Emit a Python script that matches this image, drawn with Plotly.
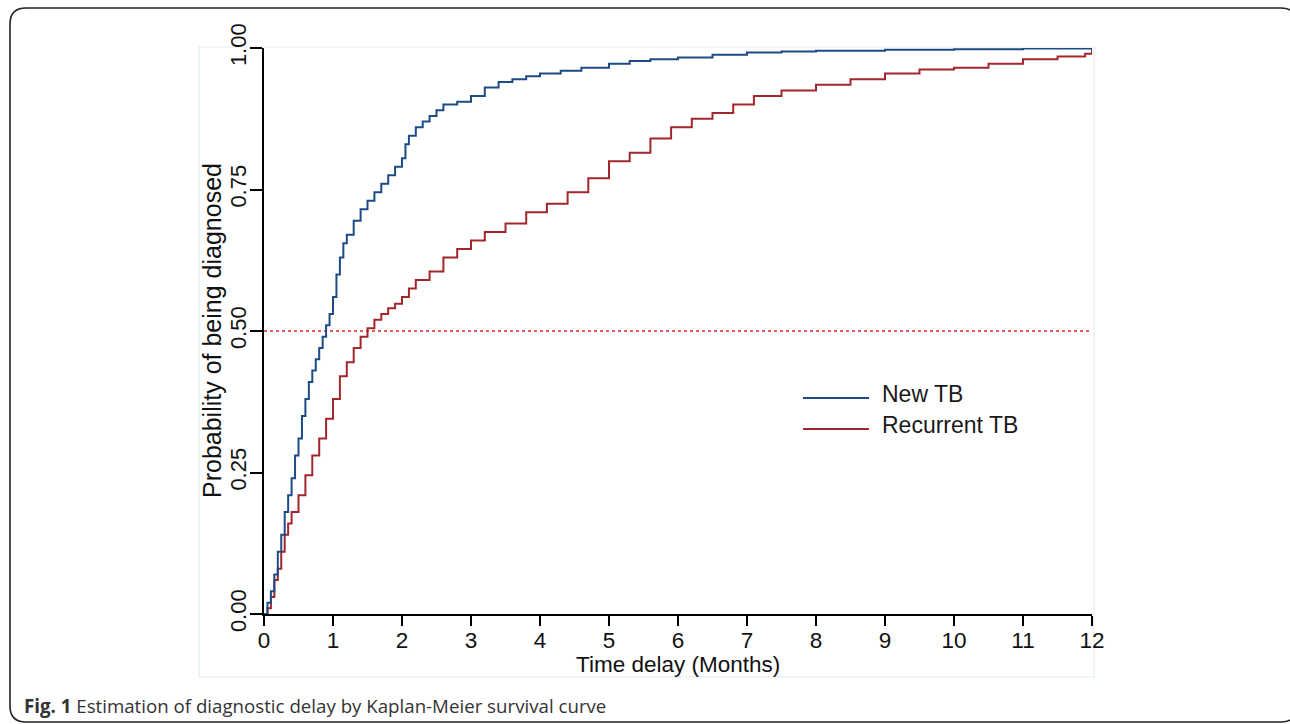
import plotly.graph_objects as go

# ---- data ----
new_t = [0, 0.05, 0.1, 0.15, 0.2, 0.25, 0.3, 0.35, 0.4, 0.45, 0.5, 0.55, 0.6, 0.65, 0.7, 0.75, 0.8, 0.85, 0.9, 0.95,
         1.0, 1.05, 1.1, 1.15, 1.2, 1.3, 1.4, 1.5, 1.6, 1.7, 1.8, 1.9, 2.0, 2.05, 2.1, 2.2, 2.3, 2.4, 2.5, 2.6, 2.8,
         3.0, 3.2, 3.4, 3.6, 3.8, 4.0, 4.3, 4.6, 5.0, 5.3, 5.6, 6.0, 6.5, 7.0, 7.5, 8.0, 9.0, 10.0, 11.0, 12.0]
new_p = [0, 0.02, 0.04, 0.07, 0.11, 0.14, 0.18, 0.21, 0.24, 0.28, 0.31, 0.35, 0.38, 0.41, 0.43, 0.45, 0.47, 0.49, 0.51, 0.53,
         0.56, 0.60, 0.63, 0.655, 0.67, 0.695, 0.715, 0.73, 0.745, 0.76, 0.775, 0.79, 0.805, 0.83, 0.845, 0.86, 0.87, 0.88, 0.89, 0.9, 0.905,
         0.915, 0.93, 0.94, 0.945, 0.95, 0.955, 0.96, 0.965, 0.972, 0.977, 0.98, 0.983, 0.988, 0.992, 0.994, 0.995, 0.997, 0.998, 0.999, 1.0]

rec_t = [0, 0.05, 0.1, 0.15, 0.2, 0.25, 0.3, 0.35, 0.4, 0.5, 0.6, 0.7, 0.8, 0.9,
         1.0, 1.1, 1.2, 1.3, 1.4, 1.5, 1.6, 1.7, 1.8, 1.9, 2.0, 2.1, 2.2, 2.4, 2.6, 2.8,
         3.0, 3.2, 3.5, 3.8, 4.1, 4.4, 4.7, 5.0, 5.3, 5.6, 5.9, 6.2, 6.5, 6.8, 7.1, 7.5,
         8.0, 8.5, 9.0, 9.5, 10.0, 10.5, 11.0, 11.5, 11.9, 12.0]
rec_p = [0, 0.01, 0.03, 0.06, 0.08, 0.11, 0.14, 0.16, 0.18, 0.21, 0.245, 0.28, 0.31, 0.345,
         0.38, 0.42, 0.445, 0.47, 0.49, 0.505, 0.52, 0.53, 0.54, 0.548, 0.56, 0.575, 0.59, 0.605, 0.63, 0.645,
         0.66, 0.675, 0.69, 0.71, 0.725, 0.745, 0.77, 0.80, 0.815, 0.84, 0.86, 0.875, 0.885, 0.90, 0.915, 0.925,
         0.935, 0.945, 0.955, 0.962, 0.965, 0.972, 0.98, 0.985, 0.99, 1.0]

ref_t = [0, 12]
ref_p = [0.5, 0.5]

x_ticks = list(range(0, 13))
y_ticks = [0, 0.25, 0.5, 0.75, 1.0]
y_labels = ["0.00", "0.25", "0.50", "0.75", "1.00"]

series_names = ["New TB", "Recurrent TB"]
BLUE = "#1c4c85"
RED = "#a3262c"

# ---- layout geometry (pixels) ----
W, H = 1290, 724
L, R, T, B = 264, 1092, 48, 614
PW, PH = R - L, B - T


def px(xp):
    return (xp - L) / PW


def py(yp):
    return (B - yp) / PH


fig = go.Figure()
fig.add_trace(go.Scatter(x=ref_t, y=ref_p, mode="lines", line=dict(color="#e5242e", width=1.5, dash="dot"),
                         showlegend=False, hoverinfo="skip"))
fig.add_trace(go.Scatter(x=rec_t, y=rec_p, mode="lines", line=dict(color=RED, width=2, shape="hv"),
                         name=series_names[1], showlegend=False, cliponaxis=False))
fig.add_trace(go.Scatter(x=new_t, y=new_p, mode="lines", line=dict(color=BLUE, width=2, shape="hv"),
                         name=series_names[0], showlegend=False, cliponaxis=False))

font_main = "Liberation Sans, Arial, sans-serif"

shapes = []
# light inner panel border
shapes.append(dict(type="rect", xref="paper", yref="paper", x0=px(199), x1=px(1094), y0=py(677), y1=py(47),
                   line=dict(color="#e2eef0", width=1.2), layer="below"))
# outer rounded frame
x0, x1, y0, y1, r = 10, 1297, 8, 722, 16
path = (f"M {px(x0)},{py(y0 + r)} Q {px(x0)},{py(y0)} {px(x0 + r)},{py(y0)} "
        f"L {px(x1 - r)},{py(y0)} Q {px(x1)},{py(y0)} {px(x1)},{py(y0 + r)} "
        f"L {px(x1)},{py(y1 - r)} Q {px(x1)},{py(y1)} {px(x1 - r)},{py(y1)} "
        f"L {px(x0 + r)},{py(y1)} Q {px(x0)},{py(y1)} {px(x0)},{py(y1 - r)} Z")
shapes.append(dict(type="path", xref="paper", yref="paper", path=path, line=dict(color="#222222", width=1.6)))
# legend samples
for yy, col in [(398, BLUE), (429, RED)]:
    shapes.append(dict(type="line", xref="paper", yref="paper", x0=px(803), x1=px(869), y0=py(yy), y1=py(yy),
                       line=dict(color=col, width=2)))

annotations = [
    dict(xref="paper", yref="paper", x=px(880), y=py(394), text=series_names[0], showarrow=False,
         xanchor="left", yanchor="middle", font=dict(family=font_main, size=23, color="#1a1a1a")),
    dict(xref="paper", yref="paper", x=px(880), y=py(425), text=series_names[1], showarrow=False,
         xanchor="left", yanchor="middle", font=dict(family=font_main, size=23, color="#1a1a1a")),
    dict(xref="paper", yref="paper", x=0.5, y=py(664), text="Time delay (Months)", showarrow=False,
         xanchor="center", yanchor="middle", font=dict(family=font_main, size=22.5, color="#111")),
    dict(xref="paper", yref="paper", x=px(212), y=0.5, text="Probability of being diagnosed", showarrow=False,
         textangle=-90, xanchor="center", yanchor="middle", font=dict(family=font_main, size=25, color="#111")),
    dict(xref="paper", yref="paper", x=px(22), y=py(705),
         text="<b>Fig. 1</b> Estimation of diagnostic delay by Kaplan-Meier survival curve", showarrow=False,
         xanchor="left", yanchor="middle", font=dict(family="Open Sans, Noto Sans, sans-serif", size=18.7, color="#333333")),
]

fig.update_layout(
    width=W, height=H,
    margin=dict(l=L, r=W - R, t=T, b=H - B),
    paper_bgcolor="white", plot_bgcolor="white",
    shapes=shapes, annotations=annotations,
    showlegend=False,
    xaxis=dict(range=[0, 12], tickvals=x_ticks, ticktext=[str(v) for v in x_ticks], showgrid=False, zeroline=False,
               showline=True, linecolor="black", linewidth=2, ticks="outside", ticklen=10, tickwidth=1.5,
               tickcolor="black", tickfont=dict(family=font_main, size=22.5, color="#111"), ticklabelstandoff=-5),
    yaxis=dict(range=[0, 1], tickvals=y_ticks, ticktext=y_labels, showgrid=False, zeroline=False,
               showline=True, linecolor="black", linewidth=2, ticks="outside", ticklen=12, tickwidth=1.5,
               tickcolor="black", tickangle=-90, tickfont=dict(family=font_main, size=22, color="#111"),
               ticklabelstandoff=-5),
)

fig.write_html("out.html", config={"displayModeBar": False},
               post_script="document.body.style.margin='0';document.body.style.overflow='hidden';")
